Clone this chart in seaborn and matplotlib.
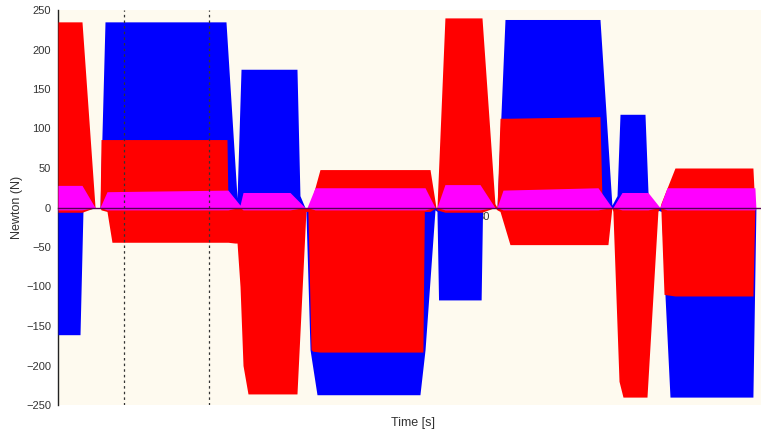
import matplotlib
matplotlib.use("Agg")
import matplotlib.pyplot as plt
import seaborn as sns

# envelope keypoints of each force signal (time in s, force in N)
blue_t = [0, 1.55, 1.76, 2.96, 3.31, 11.83, 12.61, 12.89, 16.83, 17.04, 17.39,
          17.46, 17.75, 18.24, 25.49, 25.85, 26.55, 26.69, 26.80, 29.80, 29.90,
          30.92, 31.48, 38.17, 39.01, 39.37, 39.58, 41.34, 41.55, 41.70,
          42.50, 42.75, 43.10, 48.94, 49.15]
blue_hi = [0, 0, 0, 0, 235, 235, 12, 175, 175, 15, 0,
           0, 0, 0, 0, 0, 0, 0, 0, 0, 0,
           0, 238, 238, 3, 15, 118, 118, 20, 0,
           0, 0, 0, 0, 0]
blue_lo = [-161, -161, -3, 0, -3, -3, 0, 0, 0, 0, 0,
           -5, -180, -237, -237, -180, -3, -5, -117, -117, -3,
           0, -3, -3, 0, 0, 0, 0, 0, 0,
           -5, -112, -240, -240, -5]

red_t = [0, 1.69, 2.61, 2.96, 3.03, 3.45, 3.80, 11.90, 11.97, 12.46, 12.61,
         12.82, 13.03, 13.38, 16.83, 17.46, 17.60, 17.82, 17.96, 18.45, 25.70,
         25.80, 26.20, 26.62, 26.69, 27.25, 29.86, 30.77, 30.92, 31.13, 31.83,
         38.17, 38.31, 38.73, 39.01, 39.08, 39.51, 39.79, 41.48, 42.25, 42.39,
         42.46, 42.68, 43.45, 48.94, 49.08]
red_hi = [235, 235, 0, 0, 86, 86, 86, 86, 5, 3, 0,
          0, 0, 0, 0, 0, 0, 5, 16, 48, 48,
          48, 48, 0, 0, 240, 240, 5, 0, 113, 113,
          115, 10, 5, 0, 0, 0, 0, 0, 0, 0,
          5, 15, 50, 50, 0]
red_lo = [-6, -6, 0, 0, -3, -5, -44, -44, -44, -45, -45,
          -100, -200, -236, -236, -5, -5, -180, -182, -183, -183,
          -5, -5, 0, -3, -6, -6, 0, -3, -5, -47,
          -47, -47, -47, 0, -5, -220, -240, -240, -5, 0,
          -3, -110, -112, -112, 0]

mag_t = [0, 1.69, 2.61, 2.96, 3.45, 11.97, 12.82, 13.03, 16.34, 17.39,
         17.54, 18.10, 25.85, 26.55, 26.69, 27.25, 29.72, 30.77,
         30.92, 31.34, 38.03, 39.01, 39.08, 39.72, 41.55, 42.39,
         42.89, 49.08, 49.15]
mag_hi = [28, 28, 0, 0, 20, 22, 3, 19, 19, 0,
          0, 25, 25, 0, 0, 29, 29, 0,
          0, 22, 25, 0, 0, 19, 19, 0,
          25, 25, 0]
mag_lo = [-3, -3, 0, 0, -3, -3, 0, -3, -3, 0,
          0, -3, -3, 0, 0, -3, -3, 0,
          0, -3, -3, 0, 0, -3, -3, 0,
          -3, -3, 0]

cursor_t = [4.65, 10.63]
y_ticks = [-250, -200, -150, -100, -50, 0, 50, 100, 150, 200, 250]
x_ticks = [5, 10, 15, 20, 25, 30, 35, 40, 45]
x_minor = [2.5, 7.5, 12.5, 17.5, 22.5, 27.5, 32.5, 37.5, 42.5, 47.5]

sns.set_theme(style="white")
plt.rcParams["font.family"] = ["Liberation Sans", "DejaVu Sans"]

fig = plt.figure(figsize=(7.61, 4.34), dpi=100)
ax = fig.add_axes([58 / 761, 1 - 405 / 434, 1 - 58 / 761, 395 / 434])
ax.set_facecolor("#fefaef")

ax.fill_between(blue_t, blue_lo, blue_hi, color="#0000ff", lw=0, zorder=3)
ax.fill_between(red_t, red_lo, red_hi, color="#ff0000", lw=0, zorder=3.1)
ax.fill_between(mag_t, mag_lo, mag_hi, color="#ff00ff", lw=0, zorder=3.2)

for t in cursor_t:
    ax.axvline(t, color="#333333", lw=0.9, ls=(0, (2, 2.5)), zorder=4)

ax.set_xlim(0, 49.51)
ax.set_ylim(-250, 250)
ax.set_yticks(y_ticks)
ax.set_xticks(x_ticks)
ax.set_xticks(x_minor, minor=True)

sns.despine(ax=ax, top=True, right=True)
ax.spines["bottom"].set_position(("data", 0))
ax.spines["bottom"].set_color("#550055")
ax.spines["bottom"].set_linewidth(1.0)
ax.spines["bottom"].set_zorder(5)
ax.spines["left"].set_color("#222222")
ax.spines["left"].set_linewidth(1.0)

ax.tick_params(axis="y", direction="out", length=4, width=0.8, color="#222222",
               labelsize=8, labelcolor="#333333", pad=1)
ax.tick_params(axis="x", which="both", direction="inout", length=4, width=0.8,
               color="#222222", labelsize=8, labelcolor="#333333", pad=1)

ax.set_xlabel("Time [s]", fontsize=9, color="#333333")
ax.xaxis.set_label_coords(0.505, -0.03)
ax.set_ylabel("Newton (N)", fontsize=9, color="#333333", labelpad=2)

plt.savefig("out.png", dpi=100)
plt.close()
